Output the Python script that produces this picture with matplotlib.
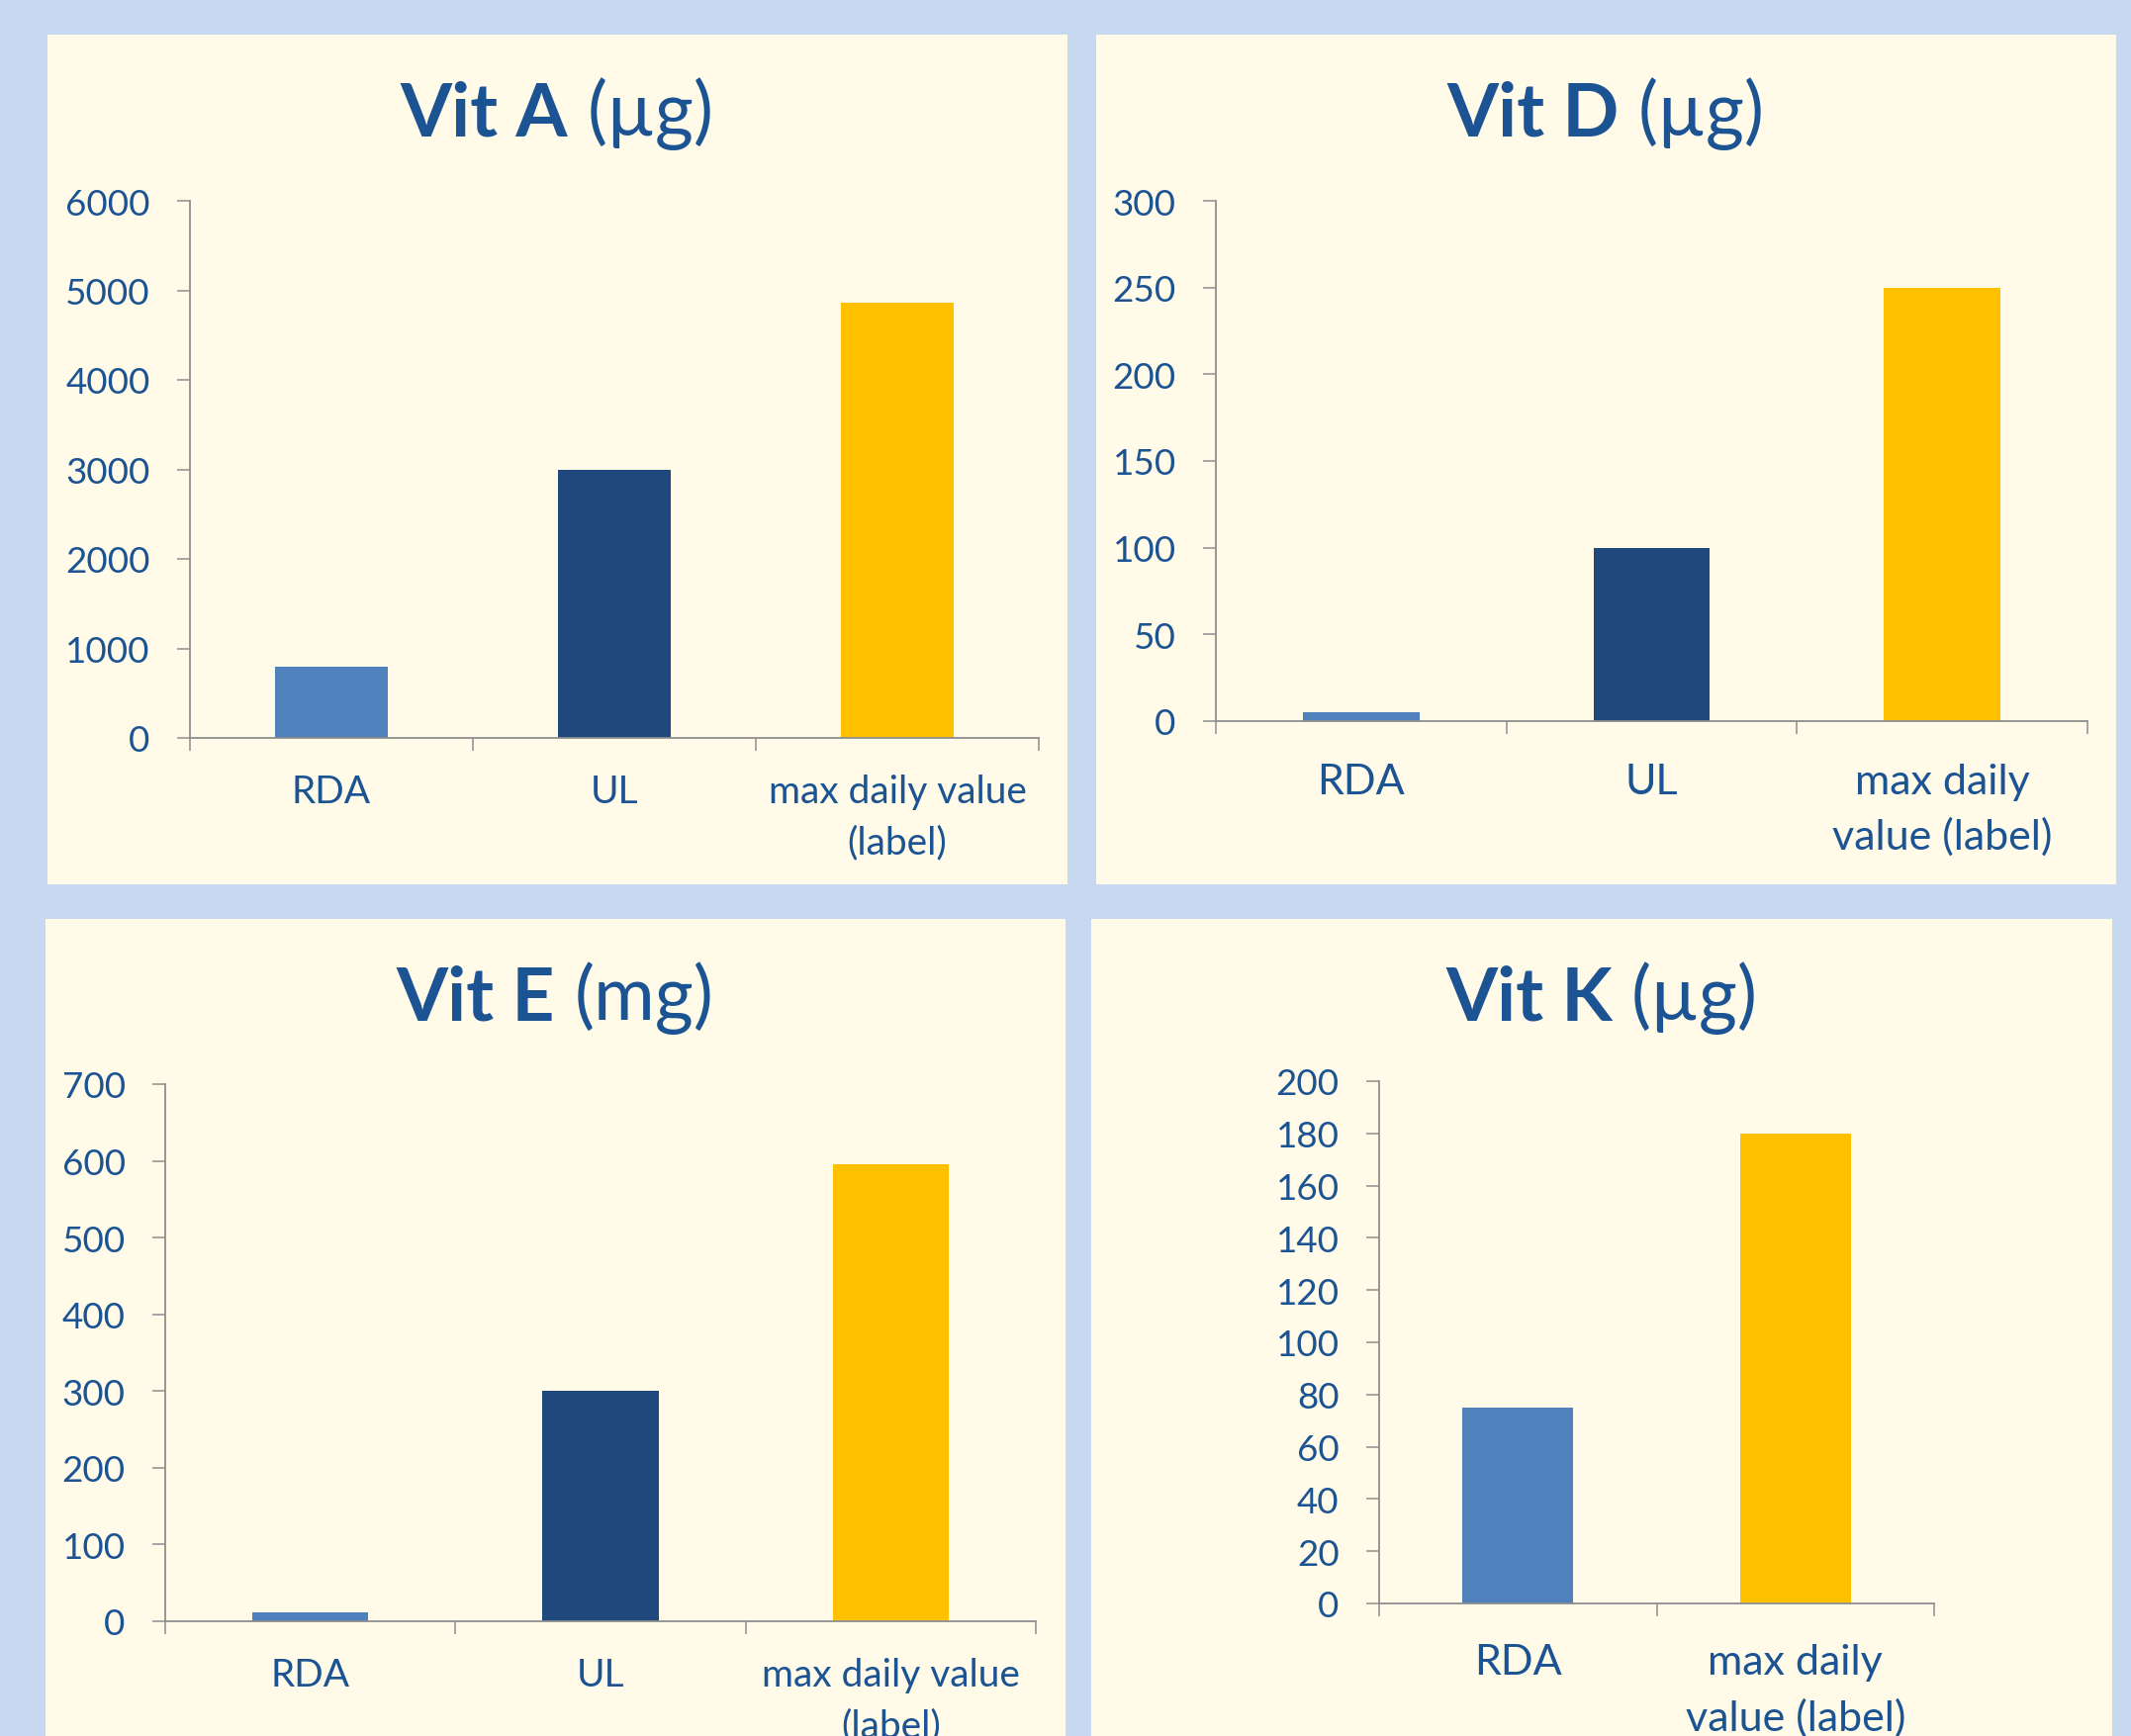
import matplotlib
matplotlib.use("Agg")
import matplotlib.pyplot as plt
from matplotlib.patches import Rectangle
import numpy as np

plt.rcParams["font.family"] = ["Lato", "DejaVu Sans"]

W, H, DPI = 2154, 1756, 100

# ---- data -------------------------------------------------------------
vit_a_categories = ["RDA", "UL", "max daily value\n(label)"]
vit_a_values = [800, 3000, 4860]
vit_a_ticks = [0, 1000, 2000, 3000, 4000, 5000, 6000]

vit_d_categories = ["RDA", "UL", "max daily\nvalue (label)"]
vit_d_values = [5, 100, 250]
vit_d_ticks = [0, 50, 100, 150, 200, 250, 300]

vit_e_categories = ["RDA", "UL", "max daily value\n(label)"]
vit_e_values = [12, 300, 596]
vit_e_ticks = [0, 100, 200, 300, 400, 500, 600, 700]

vit_k_categories = ["RDA", "max daily\nvalue (label)"]
vit_k_values = [75, 180]
vit_k_ticks = [0, 20, 40, 60, 80, 100, 120, 140, 160, 180, 200]

titles_bold = ["Vit A", "Vit D", "Vit E", "Vit K"]
titles_unit = ["(\u00b5g)", "(\u00b5g)", "(mg)", "(\u00b5g)"]

# ---- style ------------------------------------------------------------
OUTER_BG = "#C6D9F1"
PANEL_BG = "#FFFBE8"
TEXT_BLUE = "#1B5393"
AXIS_GREY = "#8E8E8E"
BAR_COLORS = {"RDA": "#4F81BD", "UL": "#1F497D"}
MAX_COLOR = "#FFC000"


def bar_color(cat):
    return BAR_COLORS.get(cat, MAX_COLOR)


def fig_rect(x0, y0, x1, y1):
    """pixel box (top-left origin) -> figure fraction [l, b, w, h]"""
    return [x0 / W, 1 - y1 / H, (x1 - x0) / W, (y1 - y0) / H]


fig = plt.figure(figsize=(W / DPI, H / DPI), dpi=DPI)
fig.patch.set_facecolor(OUTER_BG)

panels = [
    # panel box, axes box, title centre x, title baseline y, label size, label pad
    dict(box=(48, 36, 1079, 895), ax=(192, 204, 1050, 747), cx=563, by=137,
         cats=vit_a_categories, vals=vit_a_values, ticks=vit_a_ticks, lsize=28, lpad=26),
    dict(box=(1108, 36, 2139, 895), ax=(1229, 204, 2110, 730), cx=1623, by=137,
         cats=vit_d_categories, vals=vit_d_values, ticks=vit_d_ticks, lsize=31, lpad=30),
    dict(box=(46, 930, 1077, 1800), ax=(167, 1097, 1047, 1640), cx=561, by=1031,
         cats=vit_e_categories, vals=vit_e_values, ticks=vit_e_ticks, lsize=28, lpad=26),
    dict(box=(1103, 930, 2135, 1800), ax=(1394, 1094, 1955, 1622), cx=1619, by=1031,
         cats=vit_k_categories, vals=vit_k_values, ticks=vit_k_ticks, lsize=31, lpad=29),
]

title_texts = []
for i, p in enumerate(panels):
    x0, y0, x1, y1 = p["box"]
    fig.add_artist(Rectangle((x0 / W, 1 - y1 / H), (x1 - x0) / W, (y1 - y0) / H,
                             transform=fig.transFigure, facecolor=PANEL_BG,
                             edgecolor="none", zorder=-5))

    ax = fig.add_axes(fig_rect(*p["ax"]))
    ax.set_facecolor("none")
    n = len(p["cats"])
    pos = np.arange(n)
    ax.bar(pos, p["vals"], width=0.4, color=[bar_color(c) for c in p["cats"]],
           zorder=2)
    ax.set_xlim(-0.5, n - 0.5)
    ax.set_ylim(p["ticks"][0], p["ticks"][-1])
    ax.set_yticks(p["ticks"])
    ax.set_yticklabels([str(t) for t in p["ticks"]])

    # category boundaries carry the tick marks, centres carry the labels
    ax.set_xticks(np.arange(n + 1) - 0.5)
    ax.set_xticklabels([])
    ax.set_xticks(pos, minor=True)
    ax.set_xticklabels(p["cats"], minor=True, fontsize=p["lsize"],
                       color=TEXT_BLUE, linespacing=1.52)
    ax.tick_params(axis="x", which="minor", length=0, pad=p["lpad"])
    ax.tick_params(axis="x", which="major", length=9.5, width=1.1,
                   color=AXIS_GREY, direction="out")
    ax.tick_params(axis="y", length=9.5, width=1.1, color=AXIS_GREY,
                   direction="out", pad=19.5, labelsize=26.5, labelcolor=TEXT_BLUE)

    for side in ("top", "right"):
        ax.spines[side].set_visible(False)
    for side in ("left", "bottom"):
        ax.spines[side].set_color(AXIS_GREY)
        ax.spines[side].set_linewidth(1.3)

    tb = fig.text(0, 1 - p["by"] / H, titles_bold[i], fontsize=54, fontweight="bold",
                  color=TEXT_BLUE, ha="left", va="baseline")
    tu = fig.text(0, 1 - p["by"] / H, titles_unit[i], fontsize=54,
                  color=TEXT_BLUE, ha="left", va="baseline")
    title_texts.append((tb, tu, p["cx"]))

# centre each two-part title over its panel
renderer = fig.canvas.get_renderer()
GAP = 19
for tb, tu, cx in title_texts:
    wb = tb.get_window_extent(renderer).width
    wu = tu.get_window_extent(renderer).width
    start = cx - (wb + GAP + wu) / 2
    tb.set_x(start / W)
    tu.set_x((start + wb + GAP) / W)

fig.savefig("out.png", dpi=DPI, facecolor=fig.get_facecolor())
